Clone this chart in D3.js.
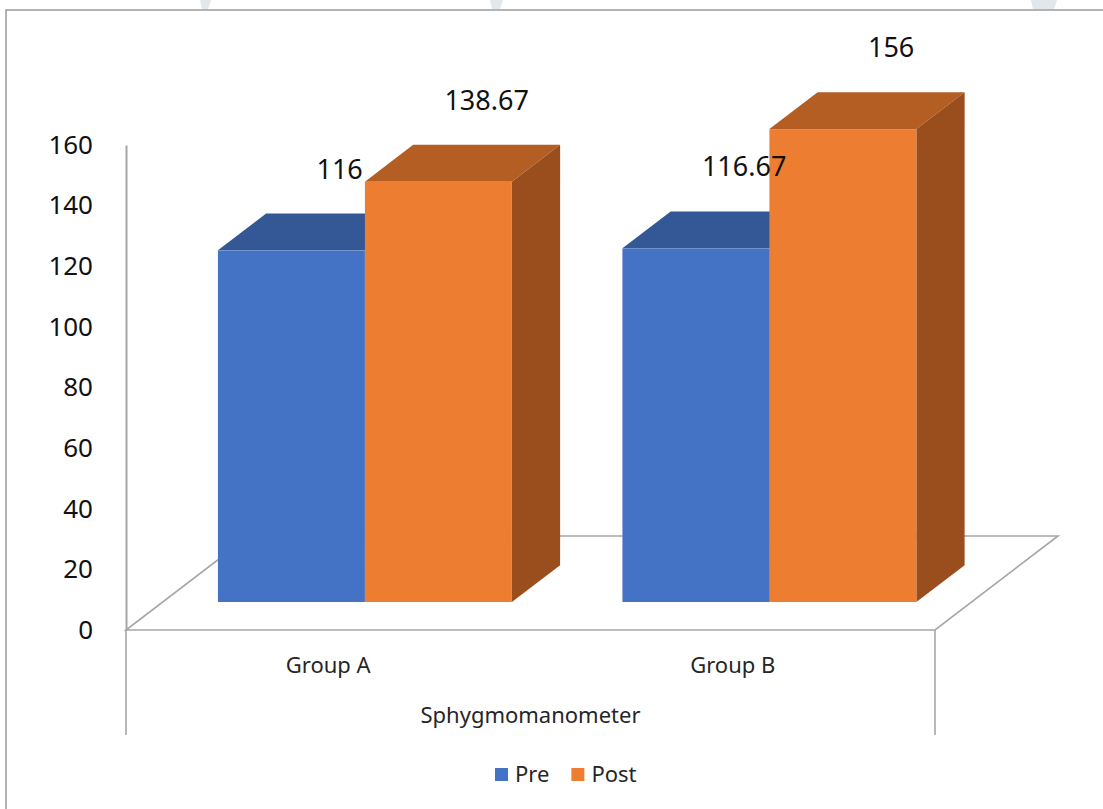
<!DOCTYPE html>
<html>
<head>
<meta charset="utf-8">
<script src="https://cdn.jsdelivr.net/npm/d3@7"></script>
<style>
  body { margin: 0; background: #fff; }
  text { font-family: "Noto Sans", "Open Sans", sans-serif; }
</style>
</head>
<body>
<div id="chart"></div>
<script>
// data
var groups = ["Group A", "Group B"];
var series = ["Pre", "Post"];
var preValues = [116, 116.67];
var postValues = [138.67, 156];
var yTicks = [0, 20, 40, 60, 80, 100, 120, 140, 160];
var axisTitle = "Sphygmomanometer";

var width = 1103,
    height = 809;

var colors = {
  Pre:  { front: "#4472C4", top: "#345896", side: "#2D4C82" },
  Post: { front: "#ED7D31", top: "#B45E23", side: "#9A4E1D" }
};

var svg = d3.select("#chart").append("svg")
  .attr("width", width)
  .attr("height", height);

//frame of the page
svg.append("path")
  .attr("d", "M6," + height + "V10H" + width)
  .attr("fill", "none")
  .attr("stroke", "#9a9a9a")
  .attr("stroke-width", 1.5);

//faint watermark bits above the frame
[[200, 211], [490, 503], [1031, 1057]].forEach(function(w) {
  svg.append("path")
    .attr("d", "M" + w[0] + ",0H" + w[1] + "L" + (w[1] - 3) + ",9H" + (w[0] + 2) + "Z")
    .attr("fill", "#e2e7eb");
});

//scales
var left = 126, right = 935;
var yScale = d3.scaleLinear()
  .domain([0, 160])
  .range([630, 145]);

var xScale = d3.scaleBand()
  .domain(groups)
  .range([left, right])
  .padding(0);

var xSub = d3.scaleBand()
  .domain(series)
  .range([0, xScale.bandwidth()])
  .paddingInner(0)
  .paddingOuter(0.376);

//oblique depth of the floor
var depth = { dx: 123, dy: -94 };
var barFront = 0.298, barBack = 0.69;
function shift(d) { return [depth.dx * d, depth.dy * d]; }

var y0 = yScale(0);
var grey = "#a6a6a6";

//floor
var fb = shift(1);
svg.append("path")
  .attr("d", "M" + left + "," + y0 + "L" + right + "," + y0 +
             "L" + (right + fb[0]) + "," + (y0 + fb[1]) +
             "L" + (left + fb[0]) + "," + (y0 + fb[1]) + "Z")
  .attr("fill", "none")
  .attr("stroke", grey)
  .attr("stroke-width", 1.6);

//vertical axis
var yAxis = d3.axisLeft(yScale)
  .tickValues(yTicks)
  .tickSize(0)
  .tickPadding(33);

var gy = svg.append("g")
  .attr("transform", "translate(" + left + ",0)")
  .call(yAxis);
gy.select(".domain").attr("stroke", grey).attr("stroke-width", 2);
gy.selectAll("text")
  .attr("font-size", 26)
  .attr("fill", "#111")
  .attr("font-family", "Noto Sans");

//category dividers under the floor
[left, right].forEach(function(x) {
  svg.append("line")
    .attr("x1", x).attr("x2", x)
    .attr("y1", y0).attr("y2", 735)
    .attr("stroke", grey)
    .attr("stroke-width", 1.6);
});

//bars
var bars = [];
groups.forEach(function(g, i) {
  bars.push({ group: g, key: "Pre", value: preValues[i] });
  bars.push({ group: g, key: "Post", value: postValues[i] });
});

var f = shift(barFront), b = shift(barBack);
var ddx = b[0] - f[0], ddy = b[1] - f[1];

bars.forEach(function(d) {
  var x1 = xScale(d.group) + xSub(d.key) + f[0];
  var x2 = x1 + xSub.bandwidth();
  var base = y0 + f[1];
  var top = base - (y0 - yScale(d.value));
  d.x1 = x1; d.x2 = x2; d.top = top;

  var g = svg.append("g").attr("class", "bar");
  //top face
  g.append("path")
    .attr("d", "M" + x1 + "," + top + "L" + x2 + "," + top +
               "L" + (x2 + ddx) + "," + (top + ddy) +
               "L" + (x1 + ddx) + "," + (top + ddy) + "Z")
    .attr("fill", colors[d.key].top);
  //side face
  g.append("path")
    .attr("d", "M" + x2 + "," + top + "L" + (x2 + ddx) + "," + (top + ddy) +
               "L" + (x2 + ddx) + "," + (base + ddy) +
               "L" + x2 + "," + base + "Z")
    .attr("fill", colors[d.key].side);
  //front face
  g.append("rect")
    .attr("x", x1)
    .attr("y", top)
    .attr("width", x2 - x1)
    .attr("height", base - top)
    .attr("fill", colors[d.key].front);
});

//data labels
svg.selectAll(".label")
  .data(bars)
  .enter().append("text")
  .attr("class", "label")
  .attr("x", function(d) { return (d.x1 + d.x2) / 2 + ddx; })
  .attr("y", function(d) { return d.top + ddy - 35; })
  .attr("text-anchor", "middle")
  .attr("font-size", 27)
  .attr("fill", "#111")
  .text(function(d) { return d.value; });

//category labels
svg.selectAll(".cat")
  .data(groups)
  .enter().append("text")
  .attr("class", "cat")
  .attr("x", function(d) { return xScale(d) + xScale.bandwidth() / 2; })
  .attr("y", 673)
  .attr("text-anchor", "middle")
  .attr("font-size", 22)
  .attr("fill", "#262626")
  .text(function(d) { return d; });

svg.append("text")
  .attr("x", (left + right) / 2)
  .attr("y", 723)
  .attr("text-anchor", "middle")
  .attr("font-size", 22)
  .attr("fill", "#262626")
  .text(axisTitle);

//legend
var legend = svg.append("g").attr("transform", "translate(495,768)");
var lx = 0;
series.forEach(function(s) {
  legend.append("rect")
    .attr("x", lx).attr("y", 0)
    .attr("width", 13).attr("height", 13)
    .attr("fill", colors[s].front);
  var t = legend.append("text")
    .attr("x", lx + 20)
    .attr("y", 14)
    .attr("font-size", 22)
    .attr("fill", "#262626")
    .text(s);
  lx += 20 + t.node().getComputedTextLength() + 22;
});
</script>
</body>
</html>
